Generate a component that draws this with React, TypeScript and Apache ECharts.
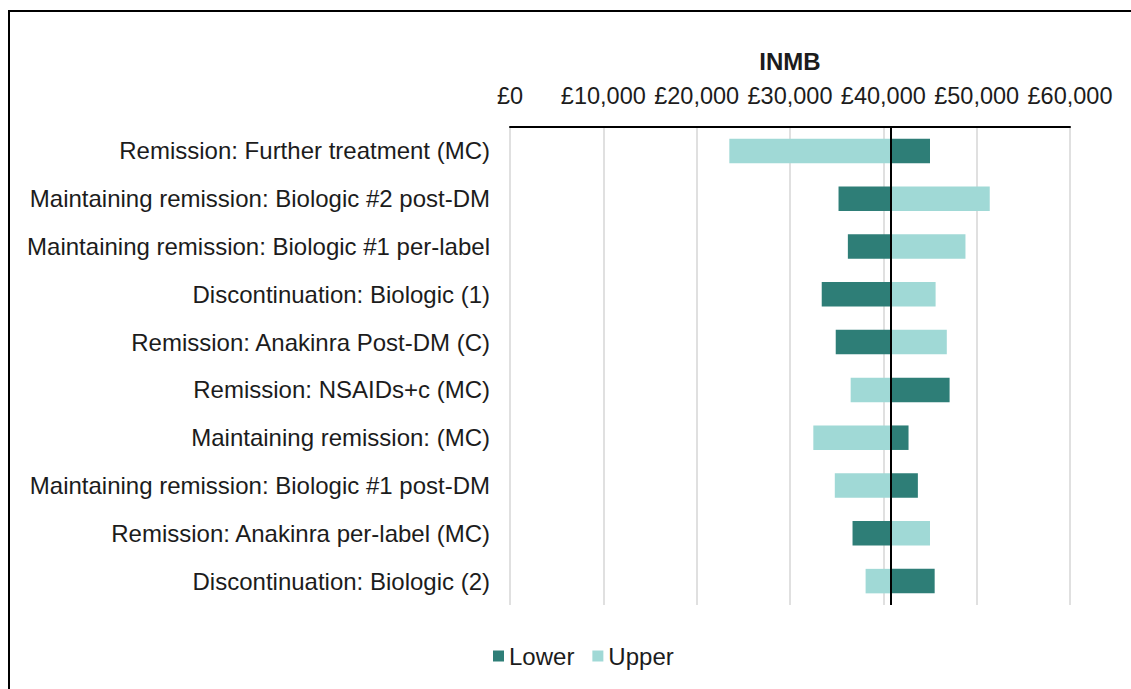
import React, { useEffect, useRef } from "react";
import * as echarts from "echarts";

const categories = [
  "Remission: Further treatment (MC)",
  "Maintaining remission: Biologic #2 post-DM",
  "Maintaining remission: Biologic #1 per-label",
  "Discontinuation: Biologic (1)",
  "Remission: Anakinra Post-DM (C)",
  "Remission: NSAIDs+c (MC)",
  "Maintaining remission: (MC)",
  "Maintaining remission: Biologic #1 post-DM",
  "Remission: Anakinra per-label (MC)",
  "Discontinuation: Biologic (2)",
];

const baseValue = 40800;
const lowerValues = [45000, 35200, 36200, 33400, 34900, 47100, 42700, 43700, 36700, 45500];
const upperValues = [23500, 51400, 48800, 45600, 46800, 36500, 32500, 34800, 45000, 38100];

const tickMin = 0;
const tickMax = 60000;
const tickInterval = 10000;

const DARK = "#2E7E77";
const LIGHT = "#A0D9D6";
const FONT = "'Liberation Sans', Arial, sans-serif";
const TEXT = "#1c1c1c";

export default function App() {
  const ref = useRef<HTMLDivElement>(null);

  useEffect(() => {
    if (!ref.current) return;
    const chart = echarts.init(ref.current, null, { renderer: "svg" });
    const barWidth = 24.5;
    const offsets = (vals: number[]) => vals.map((v) => Math.min(v, baseValue));
    const lengths = (vals: number[]) => vals.map((v) => Math.abs(v - baseValue));

    chart.setOption({
      animation: false,
      textStyle: { fontFamily: FONT },
      graphic: [
        {
          type: "rect",
          shape: { x: 9, y: 11, width: 1300, height: 900 },
          style: { fill: "none", stroke: "#000", lineWidth: 2 },
          silent: true,
          z: 100,
        },
      ],
      legend: {
        data: ["Lower", "Upper"],
        left: 488,
        top: 639,
        itemWidth: 11,
        itemHeight: 11,
        itemGap: 18,
        icon: "rect",
        textStyle: { fontSize: 24, color: TEXT, fontFamily: FONT },
      },
      grid: {
        left: 510,
        right: 61,
        top: 127,
        bottom: 84,
        containLabel: false,
        outerBoundsMode: "none",
      },
      xAxis: {
        type: "value",
        position: "top",
        min: tickMin,
        max: tickMax,
        interval: tickInterval,
        name: "INMB",
        nameLocation: "middle",
        nameGap: 54,
        nameTextStyle: { fontSize: 24, fontWeight: "bold", color: TEXT, fontFamily: FONT },
        axisLine: { show: true, lineStyle: { color: "#000", width: 2 } },
        axisTick: { show: false },
        axisLabel: {
          fontSize: 23.5,
          color: TEXT,
          margin: 19,
          fontFamily: FONT,
          formatter: (v: number) => "£" + v.toLocaleString("en-GB"),
        },
        splitLine: { show: true, lineStyle: { color: "#d6d6d6", width: 1.5 } },
      },
      yAxis: {
        type: "category",
        data: categories,
        inverse: true,
        axisLine: { show: false },
        axisTick: { show: false },
        axisLabel: { fontSize: 24, color: TEXT, margin: 20, fontFamily: FONT },
        splitLine: { show: false },
      },
      series: [
        {
          name: "_lowerOffset",
          type: "bar",
          stack: "L",
          data: offsets(lowerValues),
          barWidth,
          barGap: "-100%",
          itemStyle: { color: "rgba(0,0,0,0)" },
          silent: true,
        },
        {
          name: "Lower",
          type: "bar",
          stack: "L",
          data: lengths(lowerValues),
          barWidth,
          barGap: "-100%",
          itemStyle: { color: DARK },
        },
        {
          name: "_upperOffset",
          type: "bar",
          stack: "U",
          data: offsets(upperValues),
          barWidth,
          barGap: "-100%",
          itemStyle: { color: "rgba(0,0,0,0)" },
          silent: true,
        },
        {
          name: "Upper",
          type: "bar",
          stack: "U",
          data: lengths(upperValues),
          barWidth,
          barGap: "-100%",
          itemStyle: { color: LIGHT },
          markLine: {
            silent: true,
            symbol: "none",
            label: { show: false },
            lineStyle: { color: "#000", width: 2, type: "solid" },
            data: [{ xAxis: baseValue }],
          },
        },
      ],
    });

    return () => chart.dispose();
  }, []);

  return (
    <div
      ref={ref}
      style={{ position: "fixed", left: 0, top: 0, width: 1131, height: 689, background: "#fff" }}
    />
  );
}
